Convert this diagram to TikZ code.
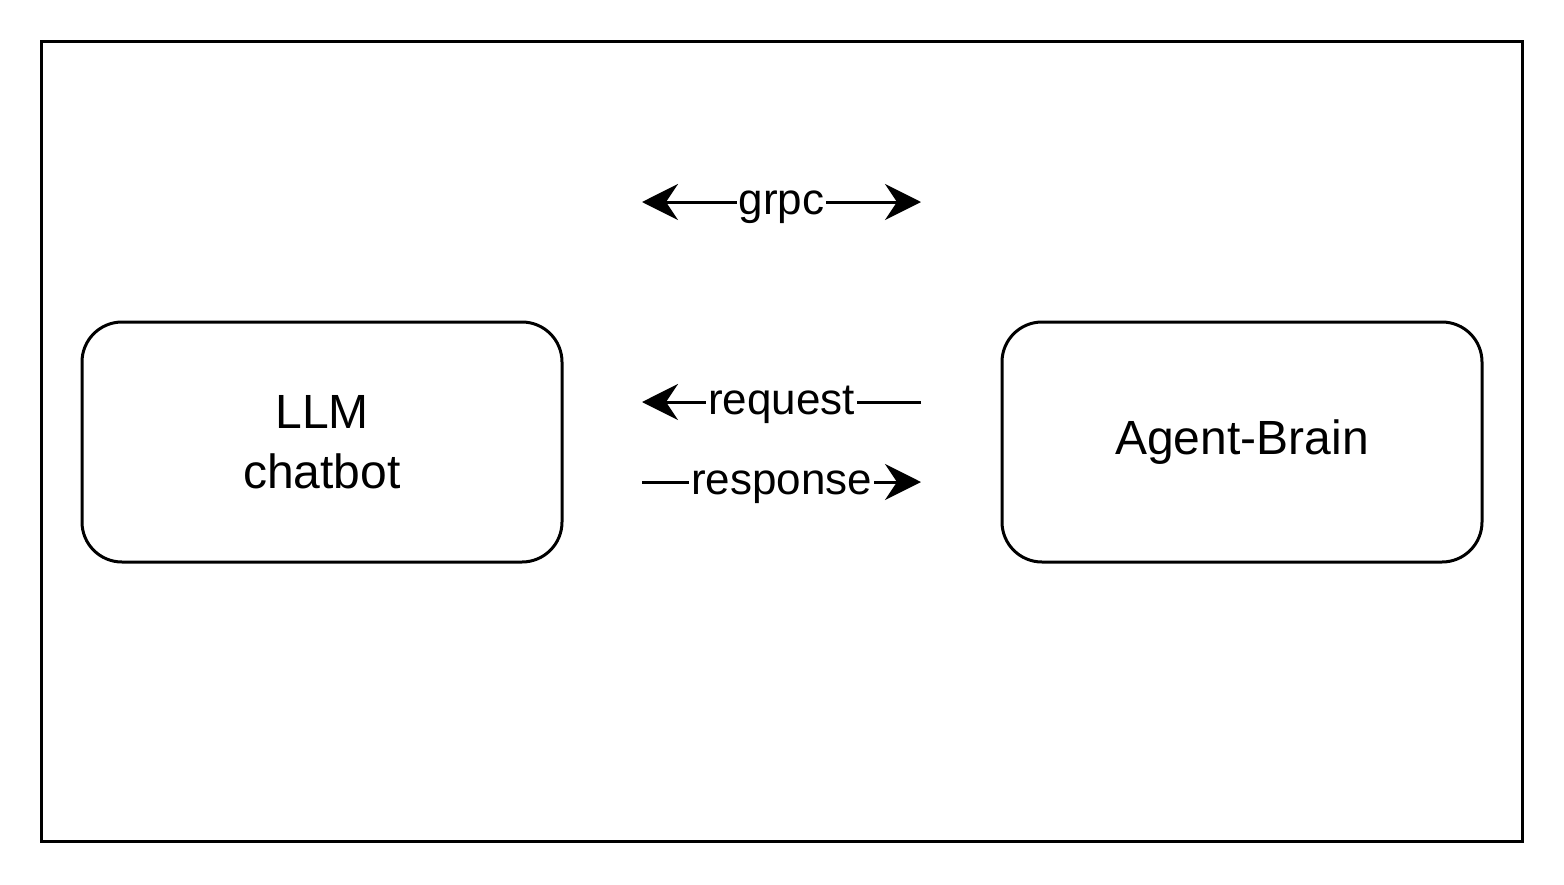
\documentclass[tikz,border=0pt]{standalone}
\usepackage{fontspec}
\setmainfont{Liberation Sans}
\usetikzlibrary{arrows.meta,positioning}

\begin{document}
\begin{tikzpicture}[x=0.5pt, y=-0.5pt, line width=1.5pt, node distance=460pt, on grid,
  block/.style={draw, rounded corners=20pt, minimum width=240pt, minimum height=120pt,
    align=center, font=\fontsize{24}{30}\selectfont},
  msg/.style={fill=white, inner sep=1pt, text height=12.4pt, text depth=0pt,
    font=\fontsize{22}{26}\selectfont},
  >={Stealth[length=18pt, width=18pt, inset=6pt]}]
  \useasboundingbox (0,0) rectangle (1564,884);
  \draw (41,41) rectangle (1522,841);

  \node[block]	(llm)   at (322,442)	{LLM\\chatbot};
  \node[block]	(agent) [right=of llm]	{Agent-Brain};

  \coordinate (grpcL) at (642,202);
  \coordinate (grpcR) at (921,202);
  \coordinate (reqL)  at (642,402);
  \coordinate (reqR)  at (921,402);
  \coordinate (resL)  at (642,482);
  \coordinate (resR)  at (921,482);

 \path
     (grpcL) edge [<->]	node[msg]	{grpc} (grpcR)
     (reqR)  edge [->]	node[msg]	{request} (reqL)
     (resL)  edge [->]	node[msg]	{response} (resR)
  ;
\end{tikzpicture}
\end{document}
